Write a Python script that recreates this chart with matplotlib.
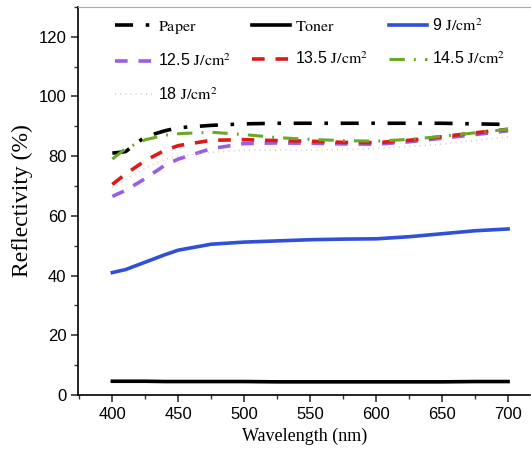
import matplotlib
matplotlib.use("Agg")
import matplotlib.pyplot as plt
from matplotlib.ticker import MultipleLocator

plt.rcParams['font.family'] = ['Liberation Sans', 'DejaVu Sans']
plt.rcParams['mathtext.fontset'] = 'stix'

# ---------- Data ----------
wl = [400, 410, 425, 440, 450, 475, 500, 525, 550, 575, 600, 625, 650, 675, 700]

paper = [81, 81.5, 86.5, 88.5, 89.5, 90.3, 90.8, 91, 91, 91, 91, 91, 91, 90.8, 90.6]
toner = [4.6, 4.6, 4.6, 4.5, 4.5, 4.5, 4.5, 4.4, 4.4, 4.4, 4.4, 4.4, 4.4, 4.5, 4.5]
j9 = [41, 42, 44.5, 47, 48.5, 50.5, 51.2, 51.6, 52, 52.2, 52.3, 53, 54, 55, 55.6]
j125 = [66.5, 68.5, 72.5, 77, 79, 82.5, 84.2, 84.4, 84.3, 84.1, 84, 84.8, 86, 87.2, 88.5]
j135 = [70.5, 74, 78.5, 82, 83.5, 85.3, 85.5, 85.2, 85, 84.6, 84.5, 85.3, 86.5, 87.8, 89]
j145 = [79, 82.5, 85.5, 87, 87.5, 88, 87.2, 86.2, 85.6, 85.2, 85, 85.6, 86.6, 87.8, 89]
j18 = [69.5, 72, 76, 79, 80, 81.3, 82, 82, 82, 82.2, 82.5, 83.2, 84, 85.2, 86.5]

# ---------- Plot ----------
fig = plt.figure(figsize=(5.31, 4.54), dpi=100)
ax = fig.add_axes([0.147, 0.130, 0.852, 0.855])

l_paper, = ax.plot(wl, paper, color="black", lw=2.6, dashes=(5, 3.5, 1, 3.5),
                   label=r"$\mathrm{Paper}$")
l_toner, = ax.plot(wl, toner, color="black", lw=2.6, label=r"$\mathrm{Toner}$")
l_9, = ax.plot(wl, j9, color="#3050d8", lw=2.6, label=r"9 $\mathrm{J/cm^2}$")
l_125, = ax.plot(wl, j125, color="#9a5ee0", lw=2.6, dashes=(3.5, 3),
                 label=r"12.5 $\mathrm{J/cm^2}$")
l_135, = ax.plot(wl, j135, color="#dd1a1a", lw=2.6, dashes=(3.5, 3),
                 label=r"13.5 $\mathrm{J/cm^2}$")
l_145, = ax.plot(wl, j145, color="#6aa82a", lw=2.2, dashes=(5, 3, 0.6, 3),
                 label=r"14.5 $\mathrm{J/cm^2}$")
l_18, = ax.plot(wl, j18, color="#d9c8cc", lw=1.2, dashes=(0.6, 2.5),
                label=r"18 $\mathrm{J/cm^2}$")

ax.set_xlim(374, 717)
ax.set_ylim(0, 130)
ax.xaxis.set_major_locator(MultipleLocator(50))
ax.xaxis.set_minor_locator(MultipleLocator(25))
ax.yaxis.set_major_locator(MultipleLocator(20))
ax.yaxis.set_minor_locator(MultipleLocator(10))
ax.tick_params(which="both", direction="out", labelsize=12, color="#333333")
ax.tick_params(which="major", length=5, width=1.2)
ax.tick_params(which="minor", length=3, width=1)
ax.set_yticks(range(0, 121, 20))

ax.spines["right"].set_visible(False)
ax.spines["top"].set_color("#aaaaaa")
ax.spines["left"].set_linewidth(1.2)
ax.spines["bottom"].set_linewidth(1.2)

ax.set_xlabel("Wavelength (nm)", family="Liberation Serif", fontsize=13, labelpad=4)
ax.set_ylabel("Reflectivity (%)", family="Liberation Serif", fontsize=17, labelpad=4)

handles = [l_paper, l_125, l_18, l_toner, l_135, l_9, l_145]
ax.legend(handles=handles, labels=[h.get_label() for h in handles], ncol=3,
          frameon=False, fontsize=11.5, loc="upper left",
          bbox_to_anchor=(0.05, 1.01), handlelength=2.4, handletextpad=0.3,
          columnspacing=1.3, labelspacing=1.05)

fig.savefig("out.png", dpi=100)
